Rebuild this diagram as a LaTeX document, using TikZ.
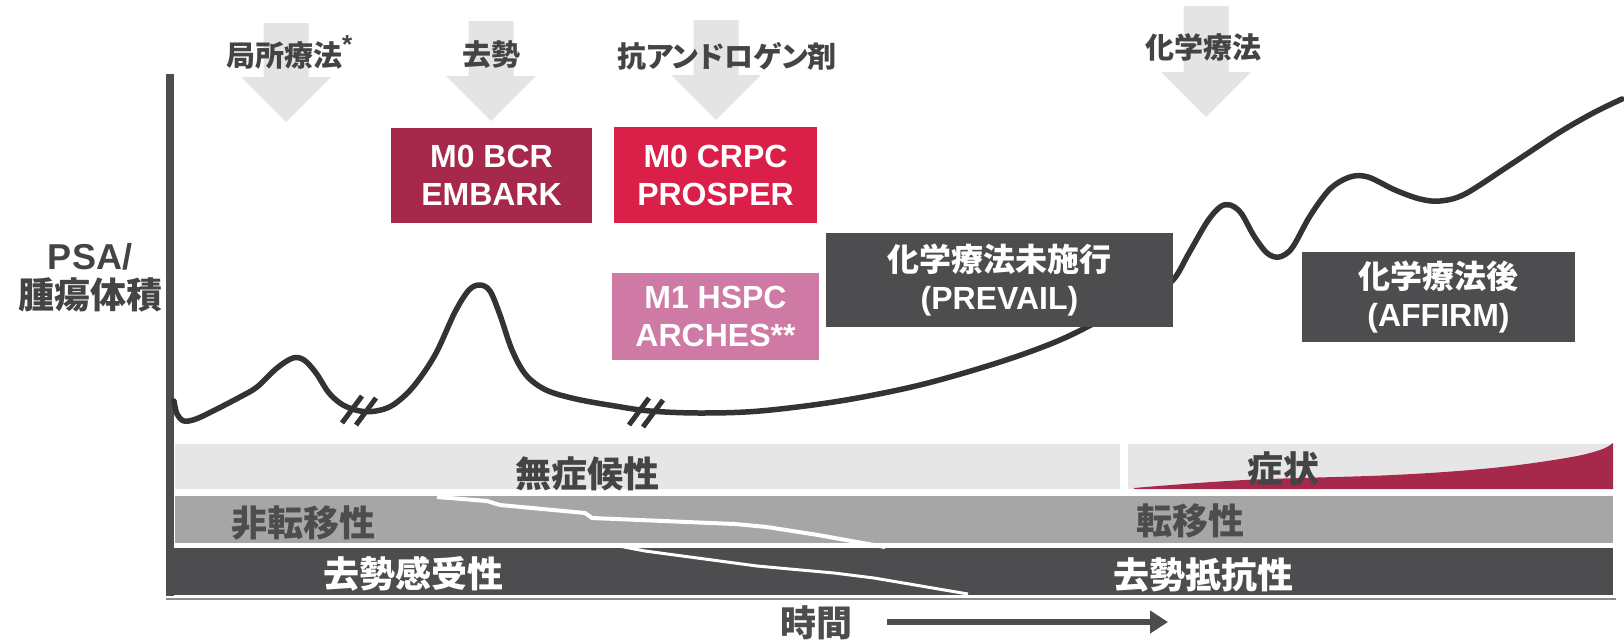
\documentclass[tikz,border=0pt]{standalone}
\usepackage{fontspec}
\setmainfont{Liberation Sans}
\newfontfamily\cjk{Noto Sans CJK JP}[RawFeature=+palt]
\usetikzlibrary{arrows.meta}
\definecolor{axisgray}{RGB}{77,77,80}
\definecolor{labgray}{RGB}{68,68,70}
\definecolor{lightband}{RGB}{230,230,230}
\definecolor{midband}{RGB}{166,166,166}
\definecolor{arrowgray}{RGB}{228,228,228}
\definecolor{curvecol}{RGB}{51,51,51}
\definecolor{bcrcol}{RGB}{166,41,75}
\definecolor{crpccol}{RGB}{218,31,72}
\definecolor{hspccol}{RGB}{206,122,164}
\definecolor{basegray}{RGB}{140,140,140}
\newcommand\fsz[2]{\fontsize{#1}{#2}\selectfont}
\newcommand\bigdown[4]{% cx, top, headstart, tip
  \fill[arrowgray] (#1-22.5,#2) -- (#1+22.5,#2) -- (#1+22.5,#3) -- (#1+45,#3)
    -- (#1,#4) -- (#1-45,#3) -- (#1-22.5,#3) -- cycle;}
\newcommand\brk[2]{% center x, y
  \draw[line width=5, curvecol] (#1-18,#2+13) -- (#1+2,#2-14);
  \draw[line width=5, curvecol] (#1-4,#2+15) -- (#1+16,#2-12);}
\tikzset{
  toplabel/.style={font=\cjk\bfseries\fsz{29}{34}, text=labgray, inner sep=0pt},
  bandtext/.style={font=\cjk\bfseries\fsz{36}{40}, inner sep=0pt},
  studybox/.style={font=\bfseries\fsz{32}{38}, text=white, align=center, inner sep=0pt},
}
\begin{document}
\begin{tikzpicture}[x=1pt,y=-1pt]
\useasboundingbox (0,0) rectangle (1624,640);
\fill[white] (0,0) rectangle (1624,640);
% bands
\fill[lightband] (175,444) rectangle (1120,489);
\fill[lightband] (1128,444) rectangle (1613,489);
\fill[midband] (175,496) rectangle (1613,543);
\fill[axisgray] (166,548) rectangle (1613,595);
% symptom wedge
\fill[bcrcol] (1134,489) -- plot[smooth, tension=0.6] coordinates {(1134,488) (1245,480) (1393,475) (1492,468) (1566,458) (1600,450) (1613,443)} -- (1613,489) -- cycle;
% transition lines
\draw[white, line width=4, line join=round] (437,497) -- (487,501) -- (500,505) -- (585,513) -- (592,518) -- (735,524) -- (767,527) -- (818,535) -- (885,547);
\draw[white, line width=3, line join=round] (619,546) -- (645,551) -- (757,566) -- (834,573) -- (874,578) -- (968,594);
% band labels
\node[bandtext, text=labgray] (asym) at (587,474) {無症候性};
\node[bandtext, text=labgray] (sympt) at (1283,469) {症状};
\node[bandtext, text=axisgray] (nonmet) at (303,523) {非転移性};
\node[bandtext, text=axisgray] (met) at (1190,521) {転移性};
\node[bandtext, text=white] (cs) at (413,574) {去勢感受性};
\node[bandtext, text=white] (cr) at (1203,575) {去勢抵抗性};
% baseline and axis
\coordinate (b0) at (166,598.5); \coordinate (b1) at (1616,598.5);
\draw[basegray, line width=2] (b0) -- (b1);
\coordinate (a0) at (170,74); \coordinate (a1) at (170,596);
\draw[axisgray, line width=8] (a0) -- (a1);
% PSA curve
\draw[curvecol, line width=5.5, line join=round, line cap=round] plot[smooth, tension=0.55] coordinates {
(174,401) (177,414) (184,421) (196,419) (215,410) (240,397) (257,387) (277,368) (293,358) (304,360) (316,373) (329,393) (343,405) (360,411) (376,411) (393,405) (413,387) (435,355) (455,312) (469,290) (480,285) (490,291) (500,315) (512,350) (526,375) (546,390) (576,399) (615,406) (650,411) (700,413) (760,411) (840,401) (920,385) (1000,362) (1060,340) (1110,315) (1150,294) (1173,280) (1189,253) (1207,222) (1220,207) (1230,205) (1241,213) (1254,236) (1267,253) (1279,257) (1292,248) (1310,216) (1330,189) (1350,177) (1368,177) (1395,190) (1420,199) (1440,201) (1465,194) (1510,165) (1560,132) (1595,112) (1622,99)};
\brk{360}{410}
\brk{647}{412}
% big gray arrows
\bigdown{286}{23}{77}{122}
\bigdown{491}{21}{76}{121}
\bigdown{716}{20}{75}{120}
\bigdown{1206}{6}{72}{117}
% top labels
\node[toplabel] (local) at (284,52) {局所療法\rlap{\raisebox{13pt}{\fontspec{Liberation Sans}\bfseries\fsz{26}{26}*}}};
\node[toplabel] (castr) at (491,55) {去勢};
\node[toplabel] (antiandro) at (727,56) {抗アンドロゲン剤};
\node[toplabel] (chemo) at (1203,47) {化学療法};
% y label
\node[font=\bfseries\fsz{36}{39}, text=labgray, align=center, inner sep=0pt] (ylab) at (90,278) {PSA/\\{\cjk 腫瘍体積}};
% study boxes
\node[studybox, fill=bcrcol, minimum width=201, minimum height=95] (bcr) at (491.5,175.5) {M0 BCR\\EMBARK};
\node[studybox, fill=crpccol, minimum width=203, minimum height=96] (crpc) at (715.5,175) {M0 CRPC\\PROSPER};
\node[studybox, fill=hspccol, minimum width=207, minimum height=87] (hspc) at (715.5,316.5) {M1 HSPC\\ARCHES**};
\node[studybox, fill=axisgray, minimum width=347, minimum height=94] (prevail) at (999.5,280) {{\cjk 化学療法未施行}\\(PREVAIL)};
\node[studybox, fill=axisgray, minimum width=273, minimum height=90] (affirm) at (1438.5,297) {{\cjk 化学療法後}\\(AFFIRM)};
% time
\node[bandtext, text=axisgray] (time) at (816,623) {時間};
\coordinate (t0) at (887,622); \coordinate (t1) at (1168,622);
\draw[axisgray, line width=6, -{Triangle[length=18pt,width=22pt]}] (t0) -- (t1);
\end{tikzpicture}
\end{document}
